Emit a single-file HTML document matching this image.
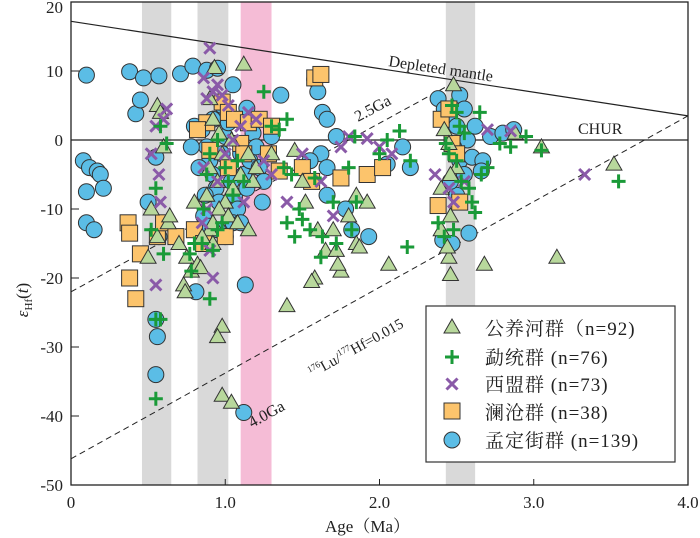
<!DOCTYPE html>
<html><head><meta charset="utf-8"><style>
html,body{margin:0;padding:0;background:#fff;}
svg{display:block;font-family:"Liberation Serif","Noto Serif CJK SC",serif;}
</style></head><body>
<svg id="chart" width="700" height="538" viewBox="0 0 700 538"></svg>
<script>
const xTicks=[0,1.0,2.0,3.0,4.0];
const xTickLabels=["0","1.0","2.0","3.0","4.0"];
const yTicks=[20,10,0,-10,-20,-30,-40,-50];
const grayBands=[[0.46,0.65],[0.82,1.02],[2.43,2.62]];
const pinkBand=[1.1,1.3];
const depletedMantle=[[0,17.2],[4.0,3.5]];
const line25=[[0,-22],[2.48,8.3]];
const line40=[[0,-46.2],[4.0,3.5]];
const triangles=[[0.56,5],[0.58,4],[0.60,-1],[0.56,-14],[0.50,-17],[0.52,-10],[0.63,-12],[0.70,-15],[0.75,-17],[0.73,-21],[0.74,-22],[0.78,-19],[0.82,-18],[0.84,-18.5],[0.90,-13],[0.92,-15],[0.98,-27],[0.95,-28.5],[0.98,-37],[1.04,-38],[0.93,10.5],[1.12,11],[0.90,6],[0.92,3],[0.98,-2],[0.90,-4],[0.95,-6],[0.88,-8],[1.00,-9],[1.05,-7],[1.10,-5],[1.15,-2],[1.18,-6],[1.20,-4],[0.96,-10],[0.92,-12],[1.02,-11],[1.08,-12],[0.85,-14],[1.15,-13],[0.80,-9],[0.96,1],[1.04,0],[1.40,-24],[1.45,-1.5],[1.50,-6],[1.52,-9],[1.60,-13],[1.65,-16],[1.70,-13],[1.72,-16],[1.75,-19],[1.58,-20],[1.56,-20.5],[1.73,-18],[1.80,-11],[1.85,-8],[1.85,-15],[1.87,-15.5],[1.92,-9],[2.06,-18],[2.40,-13],[2.45,-17],[2.46,-19.5],[2.44,-15.5],[2.46,-11],[2.50,-4],[2.48,8],[2.42,1.5],[2.45,-0.5],[2.46,-5],[2.68,-18],[2.88,1],[3.05,-1],[3.15,-17],[3.52,-3.5],[2.40,-7],[0.64,-11],[1.30,-2]];
const pluses=[[0.58,2],[0.62,-0.5],[0.55,-7],[0.55,-26],[0.58,-26],[0.55,-37.5],[0.60,-16.5],[0.52,-13],[0.77,-16.5],[0.80,-15],[0.78,-19],[0.90,-23],[0.92,-16],[0.85,-15],[0.86,-10],[0.88,-5],[0.90,-2],[0.95,0],[1.00,-4],[1.02,-6],[1.05,-8],[1.08,-3],[1.12,-6],[0.95,-13],[0.98,-12],[1.25,7],[1.30,2],[1.35,1.5],[1.40,3],[1.38,-4],[1.43,-5],[1.48,-10],[1.50,-11.5],[1.45,-14],[1.55,-13],[1.63,-14],[1.62,-17],[1.70,-9],[1.72,-15],[1.80,-4],[1.84,0.5],[1.85,-9],[2.00,-2],[2.05,0],[2.13,1.3],[2.18,-15.5],[2.38,-12],[2.43,-0.5],[2.45,-2],[2.47,5],[2.50,4],[2.52,2],[2.55,1],[2.50,-3],[2.53,-6],[2.58,-7],[2.60,-9],[2.62,-10.5],[2.66,-5],[2.70,-4],[2.78,-0.5],[2.85,-1],[2.95,0.5],[3.05,-1.5],[3.55,-6],[2.48,-13],[2.42,-14],[2.65,4],[1.40,-12],[1.58,-5.5],[1.82,-13],[2.20,-3]];
const crosses=[[0.57,-5],[0.55,-21],[0.55,2],[0.58,-9],[0.60,3],[0.62,4.5],[0.52,-2],[0.90,13.3],[0.86,9],[0.88,6],[0.92,7],[0.95,8],[0.98,6.5],[1.02,5],[0.92,-20],[0.90,-16],[0.85,-12],[0.88,-10],[0.86,-4],[1.00,-2],[1.05,0],[1.10,2],[1.15,4],[1.20,3],[0.95,-6],[1.25,-3],[1.12,-9],[1.40,-9],[1.50,-2],[1.62,-6],[1.75,-1],[1.80,0.5],[1.92,0.2],[2.00,-1],[2.08,-2],[2.36,-5],[2.45,-7],[2.48,-9],[2.55,-6],[2.70,1.5],[2.85,1.3],[3.33,-5],[1.30,-5],[1.70,-11]];
const squares=[[0.37,-12],[0.38,-13.5],[0.38,-20],[0.42,-23],[0.45,-16.5],[0.56,-14],[0.60,-12],[0.68,-14],[0.80,-13],[0.86,-15],[0.88,2.5],[0.82,1.5],[0.90,-1.5],[0.98,5.5],[1.02,4],[1.06,3],[1.10,-0.5],[1.12,-2],[1.02,-4],[1.00,-14],[1.15,2.5],[1.22,3],[1.28,-2],[1.35,-4.5],[1.50,-4],[1.56,-6],[1.58,9],[1.62,9.5],[1.75,-5.5],[1.92,-5],[2.02,-4],[2.40,3],[2.45,4.5],[2.47,-0.5],[2.50,-2],[2.52,-9],[2.38,-9.5],[1.30,2]];
const circles=[[0.10,9.4],[0.38,9.9],[0.47,9.0],[0.57,9.3],[0.71,9.6],[0.79,10.7],[0.88,10.1],[0.95,10.4],[1.05,8.0],[1.14,4.6],[1.36,6.5],[0.08,-3],[0.10,-7.5],[0.12,-4],[0.17,-4.5],[0.19,-5],[0.21,-7],[0.10,-12],[0.15,-13],[0.42,3.8],[0.45,5.8],[0.55,-2.5],[0.50,-9],[0.57,-14],[0.55,-26],[0.56,-28.5],[0.55,-34],[0.81,-22],[1.13,-21],[1.12,-39.5],[0.85,1.5],[0.88,-1],[0.90,-3],[0.92,-5],[0.94,-7],[0.96,-9],[0.98,-2],[1.00,0.5],[1.02,-4],[1.04,-6],[1.06,-8],[1.08,-10],[1.10,-2],[1.12,-5],[1.14,-7],[1.16,-3],[1.18,1],[1.20,-1],[1.22,-4],[1.25,-6],[1.28,-2],[1.30,0.5],[0.86,-11],[0.90,-12.5],[0.95,-13],[1.00,-14],[1.05,-12],[0.83,-4],[0.87,-8],[0.80,2],[0.78,-1],[0.92,3],[1.02,2.5],[0.98,5],[1.24,-9],[1.10,-12],[1.58,8.8],[1.60,7],[1.63,4],[1.66,3],[1.72,0.5],[1.62,-2],[1.66,-4],[1.66,-8],[1.78,-10],[1.82,-13],[1.93,-14],[1.55,-3],[2.05,-3.5],[2.15,-1],[2.20,-4],[2.38,6],[2.42,4.5],[2.45,3],[2.52,6.5],[2.55,4.5],[2.50,2],[2.57,0],[2.48,-1],[2.52,-3],[2.55,-5],[2.60,-2.5],[2.67,-3],[2.72,0.5],[2.80,1],[2.87,1.5],[2.62,2],[2.66,-4.5],[2.41,-14.5],[2.47,-15],[2.58,-13.5],[2.50,-8],[2.46,-6]];

const L=71,R=688,T=2,B=485;
const X=v=>L+(v-0)/(4-0)*(R-L);
const Y=v=>B-(v-(-50))/(20-(-50))*(B-T);
const NS="http://www.w3.org/2000/svg";
const svg=document.getElementById('chart');
function mk(tag,attrs,parent){const e=document.createElementNS(NS,tag);for(const k in attrs)e.setAttribute(k,attrs[k]);(parent||svg).appendChild(e);return e;}

const bands=mk('g',{});


grayBands.forEach(b=>{const r=mk('rect',{x:X(b[0]),y:T,width:X(b[1])-X(b[0]),height:B-T,fill:'#d9d9d9'},bands);

});
const pr=mk('rect',{x:X(pinkBand[0]),y:T,width:X(pinkBand[1])-X(pinkBand[0]),height:B-T,fill:'#f5bcd6'},bands);



const ref=mk('g',{});


const dm=mk('line',{x1:X(depletedMantle[0][0]),y1:Y(depletedMantle[0][1]),x2:X(depletedMantle[1][0]),y2:Y(depletedMantle[1][1]),stroke:'#222','stroke-width':1.2},ref);


const ch=mk('line',{x1:L,y1:Y(0),x2:R,y2:Y(0),stroke:'#222','stroke-width':1.2},ref);


[[line25,'evolution-line-2.5ga'],[line40,'evolution-line-4.0ga']].forEach(([ln,n])=>{const e=mk('line',{x1:X(ln[0][0]),y1:Y(ln[0][1]),x2:X(ln[1][0]),y2:Y(ln[1][1]),stroke:'#222','stroke-width':1,'stroke-dasharray':'6,4'},ref);

});

const marks=mk('g',{});


function tri(x,y,p){return mk('polygon',{points:`${x},${y-8} ${x-8},${y+6} ${x+8},${y+6}`,fill:'#b8d89c',stroke:'#333','stroke-width':1},p);}
function plus(x,y,p){return mk('path',{d:`M${x-7},${y}H${x+7}M${x},${y-7}V${y+7}`,stroke:'#1a9a38','stroke-width':3,fill:'none'},p);}
function cross(x,y,p){return mk('path',{d:`M${x-5.5},${y-5.5}L${x+5.5},${y+5.5}M${x-5.5},${y+5.5}L${x+5.5},${y-5.5}`,stroke:'#8a5aa8','stroke-width':3,fill:'none'},p);}
function sq(x,y,p){return mk('rect',{x:x-8,y:y-8,width:16,height:16,fill:'#fcc46c',stroke:'#333','stroke-width':1},p);}
function circ(x,y,p){return mk('circle',{cx:x,cy:y,r:8,fill:'#5bbde6',stroke:'#333','stroke-width':1},p);}
circles.forEach(d=>{const e=circ(X(d[0]),Y(d[1]),marks);

});
squares.forEach(d=>{const e=sq(X(d[0]),Y(d[1]),marks);

});
triangles.forEach(d=>{const e=tri(X(d[0]),Y(d[1]),marks);

});
crosses.forEach(d=>{const e=cross(X(d[0]),Y(d[1]),marks);

});
pluses.forEach(d=>{const e=plus(X(d[0]),Y(d[1]),marks);

});

const fr=mk('rect',{x:L,y:T,width:R-L,height:B-T,fill:'none',stroke:'#222','stroke-width':1.3});


const xa=mk('g',{});


xTicks.forEach((v,i)=>{mk('line',{x1:X(v),y1:B,x2:X(v),y2:B-6,stroke:'#222'},xa);
const t=mk('text',{x:X(v),y:B+23,'text-anchor':'middle','font-size':17,fill:'#222'},xa);t.textContent=xTickLabels[i];

});
const ya=mk('g',{});


yTicks.forEach(v=>{mk('line',{x1:L,y1:Y(v),x2:L+8,y2:Y(v),stroke:'#222'},ya);
const t=mk('text',{x:L-8,y:Math.max(Y(v)+6,13),'text-anchor':'end','font-size':17,fill:'#222'},ya);t.textContent=String(v);

});
</script>
<svg width="700" height="538" style="position:absolute;left:0;top:0;font-family:'Liberation Serif','Noto Serif CJK SC',serif">
<text x="325" y="532" font-size="17" fill="#222">Age（Ma）</text>
<text transform="translate(28,300) rotate(-90)" font-size="17" fill="#222" text-anchor="middle"><tspan font-style="italic">ε</tspan><tspan font-size="11" dy="4">Hf</tspan><tspan dy="-4">(</tspan><tspan font-style="italic">t</tspan>)</text>
<text transform="translate(388,66) rotate(8.5)" font-size="16" fill="#222">Depleted mantle</text>
<text x="578" y="134" font-size="16" fill="#222">CHUR</text>
<text transform="translate(358,122) rotate(-28)" font-size="16" fill="#222">2.5Ga</text>
<text transform="translate(252,428) rotate(-29)" font-size="16" fill="#222">4.0Ga</text>
<text transform="translate(312,378) rotate(-29)" font-size="15" fill="#222"><tspan font-size="9" dy="-6">176</tspan><tspan dy="6">Lu/</tspan><tspan font-size="9" dy="-6">177</tspan><tspan dy="6">Hf=0.015</tspan></text>
<g font-size="19" letter-spacing="1">
<rect x="426" y="306" width="249" height="156" fill="#fff" stroke="#333" stroke-width="1.2"/>
<g><polygon points="452,319 444,333 460,333" fill="#b8d89c" stroke="#333"/><text x="485" y="335" fill="#222">公养河群（n=92)</text></g>
<g><path d="M445,357H459M452,350V364" stroke="#1a9a38" stroke-width="3"/><text x="485" y="364" fill="#222">勐统群 (n=76)</text></g>
<g><path d="M446.5,378.5L457.5,389.5M446.5,389.5L457.5,378.5" stroke="#8a5aa8" stroke-width="3"/><text x="485" y="391" fill="#222">西盟群 (n=73)</text></g>
<g><rect x="444" y="403" width="16" height="16" fill="#fcc46c" stroke="#333"/><text x="485" y="419" fill="#222">澜沧群 (n=38)</text></g>
<g><circle cx="452" cy="440" r="8" fill="#5bbde6" stroke="#333"/><text x="485" y="447" fill="#222">孟定街群 (n=139)</text></g>
</g>
</svg>
</body></html>
